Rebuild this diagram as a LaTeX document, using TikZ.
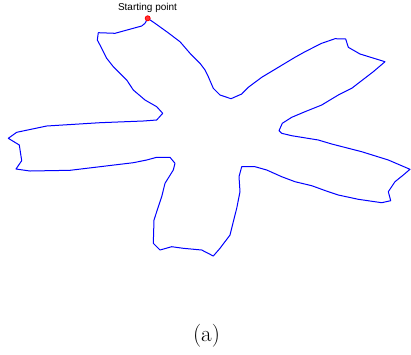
\documentclass[tikz,border=0pt]{standalone}
\usepackage{fontspec}
\newfontfamily\labelfont{Liberation Sans}
\begin{document}
\begin{tikzpicture}[x=1pt,y=-1pt,
  contour/.style={draw=blue,line width=1pt,line join=round},
  startdot/.style={circle,draw=red,fill=red!80,line width=0.8pt,inner sep=0pt,minimum size=5pt},
  lbl/.style={inner sep=0pt,font=\labelfont\fontsize{10}{12}\selectfont},
  captext/.style={inner sep=0pt,font=\fontsize{23}{27}\selectfont}]
\useasboundingbox (0,0) rectangle (411,354);
\draw[contour] (147.7,18.3) -- (145,23.3) -- (141.7,26) -- (115,33.3) -- (98.3,32.7) -- (97.3,40) -- (101.7,48.3) -- (106.7,58.3) -- (113.3,66.7) -- (126.7,80) -- (133.3,90) -- (145,100) -- (156.7,106.7) -- (162.7,113.3) -- (156.7,120) -- (143.3,121) -- (100,122.7) -- (46.7,126) -- (16.7,132.3) -- (8.3,138.3) -- (19.3,145) -- (21.7,160.7) -- (16,169) -- (30,171) -- (70,170.3) -- (100,166.7) -- (133.3,162.7) -- (146.7,160) -- (156.7,157.3) -- (170,157.3) -- (175,163.3) -- (173.3,170) -- (165,183.3) -- (161.7,196.7) -- (156.7,211.7) -- (154,220) -- (153.3,243.3) -- (160,250) -- (171.7,246.7) -- (183.3,248.3) -- (201.7,250) -- (213.3,256) -- (220,248.3) -- (230,235) -- (233.3,221.7) -- (236.7,208.3) -- (240,191.7) -- (239,176.7) -- (241.7,166.7) -- (255,166.7) -- (266.7,170) -- (281.7,176.7) -- (295,181.7) -- (311.7,185.7) -- (328.3,191.7) -- (338.3,195) -- (358.3,199.3) -- (381.7,202.7) -- (390.7,200.7) -- (388.3,191.7) -- (395,181.7) -- (403.3,175) -- (410,169.3) -- (388.3,160) -- (361.7,151.7) -- (331.7,144) -- (318.3,140) -- (291.7,135.7) -- (281.7,133.3) -- (279,130.7) -- (282.3,123.3) -- (291.7,117.3) -- (305,111.7) -- (321.7,105) -- (338.3,95) -- (351.7,88.3) -- (373.3,71.7) -- (385,61.7) -- (360,54) -- (348.3,47.3) -- (345.7,39) -- (335,38.7) -- (321.7,43.3) -- (305,51.7) -- (295,57.3) -- (261.7,77.3) -- (248.3,87.3) -- (241.7,94) -- (231,98.7) -- (220,95) -- (213.3,88.3) -- (208.3,76.7) -- (205,70) -- (200,63.3) -- (190,53.3) -- (180,41.7) -- (166.7,31.7) -- (155,23.3) -- cycle;
\node[startdot] (start) at (147.7,18.3) {};
\node[lbl,anchor=base] (startlbl) at (147.5,10.5) {Starting point};
\node[captext,anchor=base] (caption) at (206.5,341) {(a)};
\end{tikzpicture}
\end{document}
